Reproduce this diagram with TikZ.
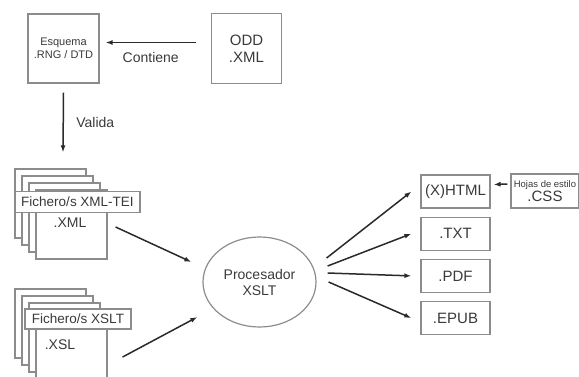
\documentclass[tikz,border=0pt]{standalone}
\usepackage{fontspec}
\setmainfont{Liberation Sans}
\definecolor{boxgray}{HTML}{8C8C8C}
\definecolor{txtgray}{HTML}{3A3A3A}
\definecolor{arrgray}{HTML}{2A2A2A}
\usetikzlibrary{positioning,shapes.geometric,arrows.meta}

\begin{document}
\begin{tikzpicture}[x=1pt, y=-1pt,
  box/.style={rectangle, draw=boxgray, line width=1.2pt, fill=white, text=txtgray,
              align=center, inner sep=2pt},
  layer/.style={box, minimum width=71pt, minimum height=69pt},
  tag/.style={box, minimum height=21pt, font=\fontsize{13.5}{15}\selectfont},
  outbox/.style={box, minimum width=69pt, minimum height=33pt, font=\fontsize{15}{17}\selectfont},
  arr/.style={-{Latex[length=7pt,width=5pt]}, draw=arrgray, line width=1.5pt},
  label/.style={text=txtgray, font=\fontsize{14}{16}\selectfont, align=center}
]
\useasboundingbox (0,0) rectangle (579,376);

% schema and ODD
\node[box, minimum width=71pt, minimum height=69pt, font=\fontsize{11}{13}\selectfont] (esq) at (63.5,48.5) {Esquema\\.RNG / DTD};
\node[box, minimum width=70pt, minimum height=70pt, font=\fontsize{15}{17}\selectfont] (odd) at (246.5,48.5) {ODD\\.XML};

% XML-TEI files
\node[layer] (xml1) at (50.5,203.5) {};
\node[layer] (xml2) at ([shift={(7,7)}]xml1) {};
\node[layer] (xml3) at ([shift={(7,7)}]xml2) {};
\node[layer] (xml4) at ([shift={(7,7)}]xml3) {};
\node[tag, minimum width=125pt] (xmltag) at (77.5,202) {Fichero/s XML-TEI};
\node[label] (xmlext) at (70,223) {.XML};

% XSLT files
\node[layer] (xsl1) at (50.5,323.5) {};
\node[layer] (xsl2) at ([shift={(7,7)}]xsl1) {};
\node[layer] (xsl3) at ([shift={(7,7)}]xsl2) {};
\node[layer] (xsl4) at ([shift={(7,7)}]xsl3) {};
\node[tag, minimum width=106pt, minimum height=20pt] (xsltag) at (78,319) {Fichero/s XSLT};
\node[label] (xslext) at (60,345) {.XSL};

% processor
\node[ellipse, draw=boxgray, line width=1.2pt, minimum width=113pt, minimum height=90pt,
      inner sep=0pt, label] (proc) at (259.5,282) {Procesador\\XSLT};

% outputs
\node[outbox] (html) at (455.5,191.5) {(X)HTML};
\node[outbox, below=8pt of html] (txt) {.TXT};
\node[outbox, below=8pt of txt] (pdf) {.PDF};
\node[outbox, below=8pt of pdf] (epub) {.EPUB};
\node[box, minimum width=68pt, minimum height=34pt, inner sep=1pt] (css) at (545,191)
  {{\fontsize{9.5}{10}\selectfont Hojas de estilo}\\{\fontsize{15}{15}\selectfont .CSS}};

\draw[arr] ([xshift=-15pt,yshift=6pt]odd.west) -- ([xshift=6pt,yshift=6pt]esq.east)
  node[label, midway, below=6pt] {Contiene};
\draw[arr] ([yshift=-9pt]esq.south) -- ([xshift=12.5pt,yshift=16pt]xml1.north)
  node[label, midway, right=9pt] {Valida};

\draw[arr] ([xshift=8pt,yshift=-2.5pt]xml4.east) -- ([xshift=-11pt,yshift=20pt]proc.west);
\draw[arr] ([xshift=15pt,yshift=-12.5pt]xsl4.east) -- ([xshift=-5pt,yshift=-35pt]proc.west);

\draw[arr] ([xshift=10pt,yshift=24pt]proc.east) -- ([xshift=-9pt]html.west);
\draw[arr] ([xshift=11pt,yshift=16pt]proc.east) -- ([xshift=-9pt]txt.west);
\draw[arr] ([xshift=11pt,yshift=9pt]proc.east) -- ([xshift=-9pt]pdf.west);
\draw[arr] ([xshift=12pt,yshift=0pt]proc.east) -- ([xshift=-9pt]epub.west);
\draw[arr] ([xshift=-3pt,yshift=7pt]css.west) -- ([xshift=3pt,yshift=7pt]html.east);
\end{tikzpicture}
\end{document}
